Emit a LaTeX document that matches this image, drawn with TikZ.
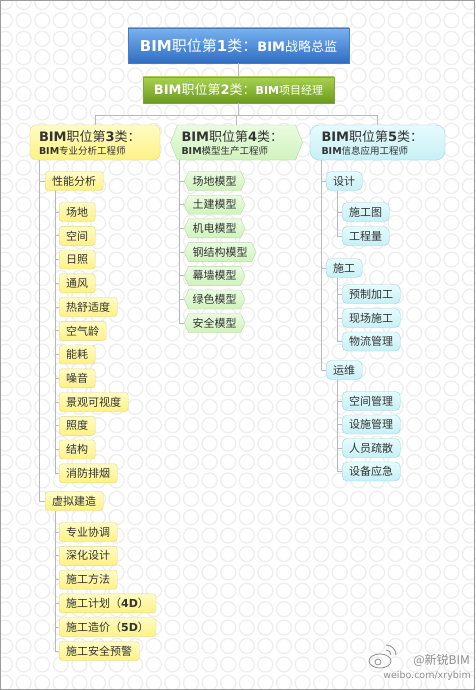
\documentclass[tikz,border=0pt]{standalone}
\usepackage{fontspec}
\newfontfamily\cjk{Noto Sans CJK SC}
\newfontfamily\verd{DejaVu Sans}
\usetikzlibrary{shapes.symbols}
\definecolor{ringgray}{HTML}{EEEEEE}
\definecolor{linegray}{HTML}{B8B8C2}
\definecolor{framegray}{HTML}{9C9C9C}
\definecolor{bluetop}{HTML}{78B2F0}
\definecolor{bluebot}{HTML}{2F6DC2}
\definecolor{blueline}{HTML}{4A7BBE}
\definecolor{greentop}{HTML}{A9D151}
\definecolor{greenbot}{HTML}{6A9A1C}
\definecolor{greenline}{HTML}{7EA536}
\definecolor{ylwtop}{HTML}{FFFCC4}
\definecolor{ylwbot}{HTML}{FDF184}
\definecolor{ylwline}{HTML}{E2D88C}
\definecolor{mnttop}{HTML}{EAFCE0}
\definecolor{mntbot}{HTML}{D0F2BE}
\definecolor{mntline}{HTML}{B6DAA2}
\definecolor{cyntop}{HTML}{E6FBFD}
\definecolor{cynbot}{HTML}{C6F0F5}
\definecolor{cynline}{HTML}{9CD4DC}
\definecolor{inkgray}{HTML}{333333}
\definecolor{wmgray}{HTML}{8E8E8E}

\newcommand{\vb}[1]{{\verd\bfseries #1}}

\tikzset{
  link/.style={draw=linegray, line width=0.9pt},
  topbox/.style={draw=#1line, top color=#1top, bottom color=#1bot, text=white,
    minimum height=26pt, inner sep=3pt, font=\cjk},
  catbox/.style={draw=#1line, top color=#1top, bottom color=#1bot, text=inkgray,
    minimum height=35pt, text width=112pt, align=left, inner xsep=9pt, font=\cjk},
  yleaf/.style={draw=ylwline, top color=ylwtop, bottom color=ylwbot, rounded corners=3pt,
    minimum height=19pt, inner xsep=7pt, inner ysep=0pt, text=inkgray, anchor=west,
    font=\cjk\fontsize{11}{13}\selectfont},
  gleaf/.style={signal, signal to=east and west, signal pointer angle=130,
    draw=mntline, top color=mnttop, bottom color=mntbot,
    minimum height=19pt, inner xsep=4pt, inner ysep=0pt, text=inkgray, anchor=west,
    font=\cjk\fontsize{11}{13}\selectfont},
  cleaf/.style={draw=cynline, top color=cyntop, bottom color=cynbot, rounded corners=5pt,
    minimum height=19pt, inner xsep=7pt, inner ysep=0pt, text=inkgray, anchor=west,
    font=\cjk\fontsize{11}{13}\selectfont},
  wm/.style={text=wmgray, inner sep=0pt, anchor=east}
}

\begin{document}
\begin{tikzpicture}[x=1pt,y=-1pt]
\useasboundingbox (0,0) rectangle (475,690);
% background rings
\fill[white] (0,0) rectangle (475,690);
\foreach \i in {0,...,25}
  \foreach \j in {0,...,37}
    \draw[ringgray, line width=1.3pt] (5+18.6*\i, 2+18.4*\j) circle (7.5pt);
\draw[framegray, line width=1.2pt] (0.6,0.6) rectangle (474.4,689.4);

% level 1 and 2
\node[topbox=blue, minimum width=221pt, minimum height=35pt] (c1) at (238.5,45.5)
  {\fontsize{15}{17}\selectfont\vb{BIM}职位第\vb{1}类：\fontsize{13}{15}\selectfont\vb{BIM}战略总监};
\node[topbox=green, minimum width=191pt] (c2) at (238.5,90)
  {\fontsize{13}{15}\selectfont\vb{BIM}职位第\vb{2}类：\fontsize{11}{13}\selectfont\vb{BIM}项目经理};

% level 3
\node[catbox=ylw, rounded corners=6pt, minimum width=130pt] (c3) at (95,142.5)
  {\fontsize{13}{15}\selectfont\vb{BIM}职位第\vb{3}类：\\[1pt]\fontsize{9.5}{11}\selectfont\vb{BIM}专业分析工程师};
\node[catbox=mnt, signal, signal to=east and west, signal pointer angle=136,
  text width=110pt, inner xsep=4pt] (c4) at (236.5,142.5)
  {\fontsize{13}{15}\selectfont\vb{BIM}职位第\vb{4}类：\\[1pt]\fontsize{9.5}{11}\selectfont\vb{BIM}模型生产工程师};
\node[catbox=cyn, rounded corners=9pt, minimum width=135pt] (c5) at (377.5,142.5)
  {\fontsize{13}{15}\selectfont\vb{BIM}职位第\vb{5}类：\\[1pt]\fontsize{9.5}{11}\selectfont\vb{BIM}信息应用工程师};

\draw[link] (c1.south) -- (c2.north);
\draw[link] (c2.south) -- ++(0,12) coordinate (bar);
\draw[link] (c3.north) |- (bar) -| (c5.north);
\draw[link] (c4.north) -- (c4.north |- bar);

% class 3
\node[yleaf] (p1) at (45,181) {性能分析};
\node[yleaf] (p2) at (45,501) {虚拟建造};
\coordinate (sp3) at ([xshift=10pt]c3.south west);
\draw[link] (sp3) |- (p1.west);
\draw[link] (sp3) |- (p2.west);

\node[yleaf] (a1) at (59,212) {场地};
\node[yleaf] (a2) at (59,235.8) {空间};
\node[yleaf] (a3) at (59,259.5) {日照};
\node[yleaf] (a4) at (59,283.3) {通风};
\node[yleaf] (a5) at (59,307) {热舒适度};
\node[yleaf] (a6) at (59,330.8) {空气龄};
\node[yleaf] (a7) at (59,354.5) {能耗};
\node[yleaf] (a8) at (59,378.3) {噪音};
\node[yleaf] (a9) at (59,402) {景观可视度};
\node[yleaf] (a10) at (59,425.8) {照度};
\node[yleaf] (a11) at (59,449.5) {结构};
\node[yleaf] (a12) at (59,473.3) {消防排烟};
\coordinate (sp31) at ([xshift=10pt]p1.south west);
\foreach \k in {1,...,12}
  \draw[link] (sp31) |- (a\k.west);

\node[yleaf] (b1) at (59,532) {专业协调};
\node[yleaf] (b2) at (59,555.8) {深化设计};
\node[yleaf] (b3) at (59,579.6) {施工方法};
\node[yleaf] (b4) at (59,603.4) {施工计划（\vb{4D}）};
\node[yleaf] (b5) at (59,627.2) {施工造价（\vb{5D}）};
\node[yleaf] (b6) at (59,651) {施工安全预警};
\coordinate (sp32) at ([xshift=10pt]p2.south west);
\foreach \k in {1,...,6}
  \draw[link] (sp32) |- (b\k.west);

% class 4
\node[gleaf] (m1) at (184,181) {场地模型};
\node[gleaf] (m2) at (184,204.7) {土建模型};
\node[gleaf] (m3) at (184,228.4) {机电模型};
\node[gleaf] (m4) at (184,252.1) {钢结构模型};
\node[gleaf] (m5) at (184,275.8) {幕墙模型};
\node[gleaf] (m6) at (184,299.5) {绿色模型};
\node[gleaf] (m7) at (184,323.2) {安全模型};
\coordinate (sp4) at ([xshift=-57.5pt]c4.south);
\foreach \k in {1,...,7}
  \draw[link] (sp4) |- (m\k.west);

% class 5
\node[cleaf] (q1) at (326,181) {设计};
\node[cleaf] (q2) at (326,268) {施工};
\node[cleaf] (q3) at (326,370) {运维};
\coordinate (sp5) at ([xshift=12pt]c5.south west);
\foreach \k in {1,2,3}
  \draw[link] (sp5) |- (q\k.west);

\node[cleaf] (d1) at (342,212) {施工图};
\node[cleaf] (d2) at (342,236) {工程量};
\node[cleaf] (e1) at (342,294) {预制加工};
\node[cleaf] (e2) at (342,318) {现场施工};
\node[cleaf] (e3) at (342,341.5) {物流管理};
\node[cleaf] (f1) at (342,401) {空间管理};
\node[cleaf] (f2) at (342,424.5) {设施管理};
\node[cleaf] (f3) at (342,448) {人员疏散};
\node[cleaf] (f4) at (342,471.5) {设备应急};
\coordinate (sp51) at ([xshift=11pt]q1.south west);
\coordinate (sp52) at ([xshift=11pt]q2.south west);
\coordinate (sp53) at ([xshift=11pt]q3.south west);
\foreach \k in {1,2}
  \draw[link] (sp51) |- (d\k.west);
\foreach \k in {1,2,3}
  \draw[link] (sp52) |- (e\k.west);
\foreach \k in {1,...,4}
  \draw[link] (sp53) |- (f\k.west);

% watermark
\draw[wmgray, line width=0.8pt] (380,661) ellipse (11pt and 7pt);
\draw[wmgray, line width=0.8pt] (378,662) circle (3pt);
\draw[wmgray, line width=0.8pt] (386,650) arc (90:0:5pt);
\draw[wmgray, line width=0.8pt] (386,645) arc (90:0:10pt);
\node[wm, font=\cjk\fontsize{12}{14}\selectfont] (w1) at (470,660) {@新锐BIM};
\node[wm, font=\verd\fontsize{9.5}{11}\selectfont] (w2) at (471,676) {weibo.com/xrybim};
\end{tikzpicture}
\end{document}
